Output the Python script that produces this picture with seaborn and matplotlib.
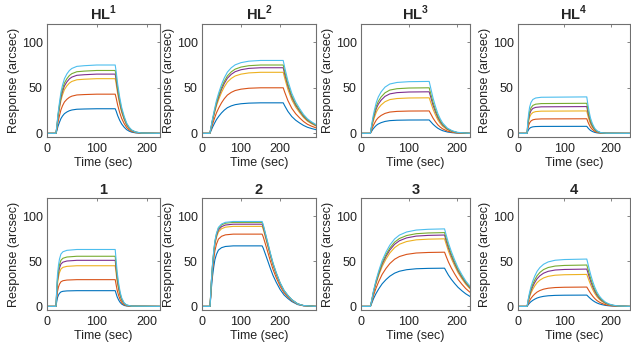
import numpy as np
import pandas as pd
import matplotlib
matplotlib.use("Agg")
import matplotlib.pyplot as plt
import seaborn as sns

# ---------------- data ----------------
TITLES = [r"HL$^{\mathbf{1}}$", r"HL$^{\mathbf{2}}$", r"HL$^{\mathbf{3}}$", r"HL$^{\mathbf{4}}$",
          "1", "2", "3", "4"]
COLORS = ["#0072BD", "#D95319", "#EDB120", "#7E2F8E", "#77AC30", "#4DBEEE"]
XMAX = [227, 292, 227, 241, 227, 292, 227, 241]

# time points and normalised response profile of each panel
T_HL1 = [0, 18, 20, 22, 25, 28, 31, 35, 40, 45, 50, 60, 75, 100, 137,
         139, 142, 146, 150, 155, 160, 165, 170, 178, 190, 227]
F_HL1 = [0, 0, 0.12, 0.28, 0.45, 0.6, 0.7, 0.8, 0.87, 0.92, 0.95, 0.98, 0.99, 1.0, 1.0,
         0.9, 0.72, 0.53, 0.38, 0.25, 0.15, 0.09, 0.05, 0.02, 0.005, 0]
L_HL1 = [27, 43, 60, 65, 69, 75]

T_HL2 = [0, 20, 23, 27, 32, 37, 43, 50, 57, 65, 75, 85, 100, 120, 150, 208,
         212, 220, 230, 240, 250, 260, 270, 280, 292]
F_HL2 = [0, 0, 0.08, 0.2, 0.33, 0.45, 0.56, 0.67, 0.76, 0.84, 0.9, 0.94, 0.97, 0.99, 1.0, 1.0,
         0.9, 0.72, 0.55, 0.43, 0.34, 0.26, 0.2, 0.16, 0.12]
L_HL2 = [33.5, 50, 67, 72, 75, 80]

T_HL3 = [0, 19.5, 22, 25, 28, 32, 36, 42, 50, 60, 75, 100, 142,
         145, 150, 155, 160, 165, 170, 180, 190, 200, 227]
F_HL3 = [0, 0, 0.15, 0.32, 0.45, 0.6, 0.7, 0.8, 0.89, 0.95, 0.98, 0.995, 1.0,
         0.88, 0.68, 0.52, 0.38, 0.28, 0.2, 0.1, 0.05, 0.02, 0]
L_HL3 = [14.7, 24.6, 39, 45.6, 50, 57]

T_HL4 = [0, 19.5, 21, 23, 25, 28, 32, 38, 50, 148,
         150, 153, 156, 160, 165, 170, 178, 190, 241]
F_HL4 = [0, 0, 0.3, 0.55, 0.72, 0.85, 0.93, 0.97, 0.99, 1.0,
         0.82, 0.6, 0.42, 0.27, 0.14, 0.07, 0.02, 0.005, 0]
L_HL4 = [7.7, 16, 24.6, 29.4, 33, 40]

T_C1 = [0, 18, 19.5, 21, 23, 25, 28, 32, 40, 60, 137,
        139, 141, 144, 147, 150, 155, 160, 170, 227]
F_C1 = [0, 0, 0.3, 0.55, 0.72, 0.83, 0.92, 0.96, 0.985, 1.0, 1.0,
        0.8, 0.6, 0.4, 0.25, 0.15, 0.06, 0.025, 0.005, 0]
L_C1 = [17.4, 29.6, 45, 51, 55.5, 63]

T_C2 = [0, 20.5, 22, 24, 27, 30, 33, 37, 42, 50, 60, 80, 154,
        157, 162, 168, 175, 182, 190, 200, 210, 220, 230, 245, 260, 292]
F_C2 = [0, 0, 0.12, 0.3, 0.5, 0.65, 0.77, 0.86, 0.93, 0.97, 0.99, 1.0, 1.0,
        0.96, 0.87, 0.76, 0.63, 0.51, 0.4, 0.28, 0.19, 0.13, 0.08, 0.03, 0.01, 0]
L_C2 = [67, 80, 88.6, 91, 93, 94]

T_C3 = [0, 19.6, 22, 26, 31, 37, 44, 52, 60, 70, 80, 95, 115, 140, 174,
        177, 182, 188, 195, 202, 210, 218, 227]
F_C3 = [0, 0, 0.07, 0.2, 0.33, 0.46, 0.59, 0.7, 0.79, 0.87, 0.92, 0.96, 0.985, 0.995, 1.0,
        0.93, 0.82, 0.71, 0.6, 0.5, 0.41, 0.33, 0.26]
L_C3 = [42.3, 60, 74.8, 79, 81.7, 85.8]

T_C4 = [0, 19.6, 22, 25, 28, 32, 36, 41, 47, 55, 65, 80, 100, 148,
        150, 153, 157, 161, 165, 170, 175, 180, 188, 196, 205, 215, 241]
F_C4 = [0, 0, 0.15, 0.3, 0.42, 0.54, 0.64, 0.74, 0.82, 0.89, 0.94, 0.975, 0.99, 1.0,
        0.92, 0.8, 0.65, 0.52, 0.41, 0.3, 0.22, 0.16, 0.09, 0.05, 0.025, 0.01, 0]
L_C4 = [12.5, 21.4, 35.4, 41.3, 45.8, 52.4]

TIMES = [T_HL1, T_HL2, T_HL3, T_HL4, T_C1, T_C2, T_C3, T_C4]
PROFILES = [F_HL1, F_HL2, F_HL3, F_HL4, F_C1, F_C2, F_C3, F_C4]
LEVELS = [L_HL1, L_HL2, L_HL3, L_HL4, L_C1, L_C2, L_C3, L_C4]

# ---------------- style ----------------
sns.set_style("white")
plt.rcParams["font.family"] = ["Liberation Sans", "DejaVu Sans"]
plt.rcParams["mathtext.fontset"] = "custom"
plt.rcParams["mathtext.rm"] = "Liberation Sans"
plt.rcParams["mathtext.bf"] = "Liberation Sans:bold"
plt.rcParams["axes.edgecolor"] = "#707070"
plt.rcParams["axes.linewidth"] = 0.8

W, H = 631, 342
fig = plt.figure(figsize=(W / 100, H / 100), dpi=100)

lefts = [47, 202, 361, 518]
widths = [113, 114, 109, 112]
rows = [(24, 137), (198, 310)]
FS = 9.0

for i in range(8):
    r, c = divmod(i, 4)
    top, bot = rows[r]
    ax = fig.add_axes([lefts[c] / W, 1 - bot / H, widths[c] / W, (bot - top) / H])
    recs = []
    for k, lev in enumerate(LEVELS[i]):
        for t, f in zip(TIMES[i], PROFILES[i]):
            recs.append({"t": t, "resp": lev * f, "curve": k})
    df = pd.DataFrame(recs)
    sns.lineplot(data=df, x="t", y="resp", hue="curve", palette=COLORS,
                 estimator=None, legend=False, linewidth=0.8, ax=ax)
    ax.set_xlim(0, XMAX[i])
    ax.set_ylim(-4, 120)
    ax.set_xticks([0, 100, 200])
    ax.set_yticks([0, 50, 100])
    ax.tick_params(direction="in", length=2.5, width=0.6, color="#707070",
                   top=True, right=True, labelsize=FS, labelcolor="#222222")
    ax.tick_params(axis="x", pad=4.5)
    ax.tick_params(axis="y", pad=3)
    ax.set_xlabel("Time (sec)", fontsize=FS, labelpad=1.5, color="#222222")
    ax.set_ylabel("Response (arcsec)", fontsize=FS, labelpad=1.5, color="#222222")
    ax.set_title(TITLES[i], fontsize=10.5, fontweight="bold", pad=3)

fig.savefig("out.png", dpi=100)
